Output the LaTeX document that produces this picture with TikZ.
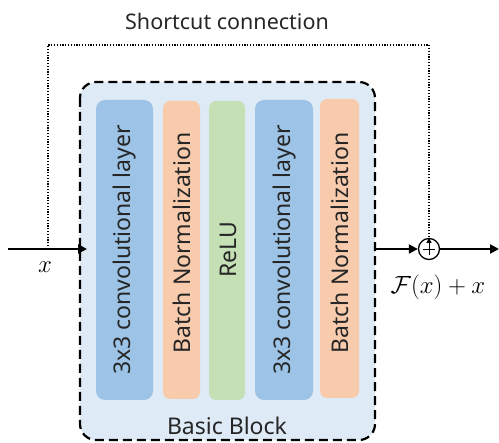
\documentclass[tikz,border=0pt]{standalone}
\usepackage{fontspec}
\setmainfont{Noto Sans}
\usetikzlibrary{arrows.meta}
\definecolor{bgblue}{HTML}{DEEBF7}
\definecolor{convblue}{HTML}{9DC3E6}
\definecolor{bnorange}{HTML}{F8CBAD}
\definecolor{relugreen}{HTML}{C5E0B4}
\tikzset{
  col/.style={draw=none, inner sep=0pt},
  lbl/.style={font=\fontsize{23}{23}\selectfont, text=black!85, inner sep=0pt},
  vlbl/.style={lbl, rotate=90},
  main/.style={line width=2pt, -{Triangle[length=9pt,width=9pt]}},
  dotl/.style={line width=1.2pt, dash pattern=on 1.2pt off 1.6pt},
  mathlbl/.style={font=\fontsize{29}{29}\selectfont, inner sep=0pt}
}
\begin{document}
\begin{tikzpicture}[x=1pt,y=-1pt]
\useasboundingbox (0,0) rectangle (499,443);
% block
\draw[fill=bgblue, line width=2.2pt, dash pattern=on 9pt off 5pt, rounded corners=16pt] (80,82) rectangle (375,440);
\fill[col, fill=convblue, rounded corners=9pt] (96,100) rectangle (153,400);
\fill[col, fill=bnorange, rounded corners=7pt] (163,101) rectangle (200,399);
\fill[col, fill=relugreen, rounded corners=7pt] (209,101) rectangle (245,400);
\fill[col, fill=convblue, rounded corners=9pt] (255,100) rectangle (313,400);
\fill[col, fill=bnorange, rounded corners=7pt] (320,99) rectangle (359,398);
\node[vlbl] (c1) at (125,250) {3x3 convolutional layer};
\node[vlbl] (b1) at (182,243) {Batch Normalization};
\node[vlbl] (r1) at (228,250) {ReLU};
\node[vlbl] (c2) at (285,250) {3x3 convolutional layer};
\node[vlbl] (b2) at (340,243) {Batch Normalization};
\node[lbl] (bb) at (227,426) {Basic Block};
\node[lbl, font=\fontsize{21.5}{21.5}\selectfont] (sc) at (227,21) {Shortcut connection};
% coordinates
\coordinate (in) at (8,249);
\coordinate (blkin) at (87,249);
\coordinate (blkout) at (375,249);
\coordinate (outend) at (499,249);
\coordinate (tl) at (48,45);
\coordinate (tr) at (429,45);
\coordinate (bl) at (48,249);
\node[circle, draw, line width=1.3pt, minimum size=21pt, inner sep=0pt, fill=white] (plus) at (429,249) {};
\draw[line width=0.9pt] ([xshift=-6pt]plus.center) -- ([xshift=6pt]plus.center) ([yshift=-6pt]plus.center) -- ([yshift=6pt]plus.center);
\draw[main] (in) -- (blkin);
\draw[main] (blkout) -- (plus.west);
\draw[main] (plus.east) -- (outend);
\draw[dotl] (bl) -- (tl) -- (tr) -- ([yshift=-5pt]plus.north);
\draw[-{Triangle[length=5pt,width=5pt]}, line width=0.8pt] ([yshift=-6pt]plus.north) -- (plus.north);
\node[mathlbl] (xl) at (45,267) {$x$};
\node[mathlbl] (fx) at (438,287) {$\mathcal{F}(x)+x$};
\end{tikzpicture}
\end{document}
